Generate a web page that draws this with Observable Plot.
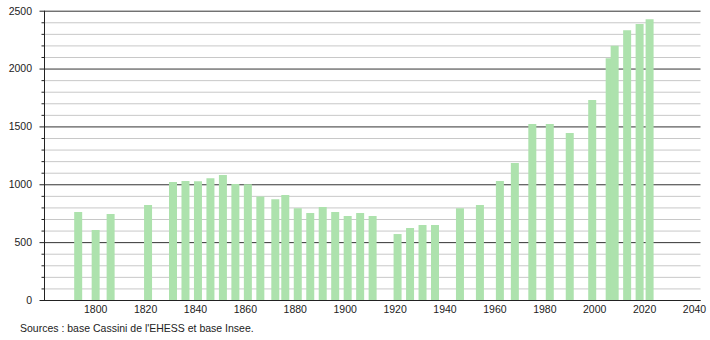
<!DOCTYPE html>
<html>
<head>
<meta charset="utf-8">
<script src="https://cdn.jsdelivr.net/npm/d3@7"></script>
<script src="https://cdn.jsdelivr.net/npm/@observablehq/plot@0.6"></script>
<style>
  html, body { margin: 0; padding: 0; background: #fff; }
  #chart { width: 710px; height: 340px; position: relative; }
  #caption { position: absolute; left: 20px; top: 322px; font: 10.5px "Liberation Sans", Arial, sans-serif; color: #222; white-space: nowrap; }
</style>
</head>
<body>
<div id="chart"><div id="caption">Sources : base Cassini de l'EHESS et base Insee.</div></div>
<script>
const years = [1793, 1800, 1806, 1821, 1831, 1836, 1841, 1846, 1851, 1856, 1861, 1866, 1872, 1876,
  1881, 1886, 1891, 1896, 1901, 1906, 1911, 1921, 1926, 1931, 1936, 1946, 1954, 1962, 1968,
  1975, 1982, 1990, 1999, 2006, 2008, 2013, 2018, 2022];
const population = [760, 605, 743, 821, 1020, 1028, 1026, 1052, 1080, 1002, 1000, 894, 870, 907,
  792, 752, 804, 760, 726, 752, 726, 570, 622, 648, 648, 792, 821, 1028, 1184,
  1521, 1521, 1443, 1728, 2089, 2198, 2331, 2385, 2426];
const xTicks = [1800, 1820, 1840, 1860, 1880, 1900, 1920, 1940, 1960, 1980, 2000, 2020, 2040];
const yMajor = [0, 500, 1000, 1500, 2000, 2500];
const yMinor = [100, 200, 300, 400, 600, 700, 800, 900, 1100, 1200, 1300, 1400, 1600, 1700, 1800, 1900,
  2100, 2200, 2300, 2400];
const xDomain = [1779.5, 2042.6];

const data = years.map((y, i) => ({year: y, pop: population[i]}));

const chart = Plot.plot({
  width: 710,
  height: 318,
  marginLeft: 44,
  marginRight: 9.5,
  marginTop: 10.7,
  marginBottom: 18,
  x: {domain: xDomain, label: null},
  y: {domain: [0, 2500], label: null},
  style: {fontFamily: "'Liberation Sans', Arial, sans-serif", fontSize: "10.5px", color: "#222", background: "#fff"},
  marks: [
    Plot.ruleY(yMinor, {stroke: "#c8c8c8", strokeWidth: 1}),
    Plot.ruleY(yMajor, {stroke: "#333", strokeWidth: 1}),
    Plot.ruleX(data, {x: "year", y: "pop", stroke: "#ade2ad", strokeWidth: 8}),
    Plot.ruleX([xDomain[0]], {stroke: "#222", strokeWidth: 1}),
    Plot.ruleY([0], {stroke: "#222", strokeWidth: 1.2}),
    Plot.axisY({ticks: yMinor, tickSize: 2.5, tickFormat: () => "", label: null, stroke: "#222"}),
    Plot.axisY({ticks: yMajor, tickSize: 4.5, tickPadding: 8, tickFormat: d => String(d), label: null, stroke: "#222"}),
    Plot.axisX({ticks: xTicks, tickSize: 0, tickPadding: 5, tickFormat: d => String(d), label: null})
  ]
});
chart.style.position = "absolute";
chart.style.left = "0";
chart.style.top = "0";
document.getElementById("chart").prepend(chart);
</script>
</body>
</html>
